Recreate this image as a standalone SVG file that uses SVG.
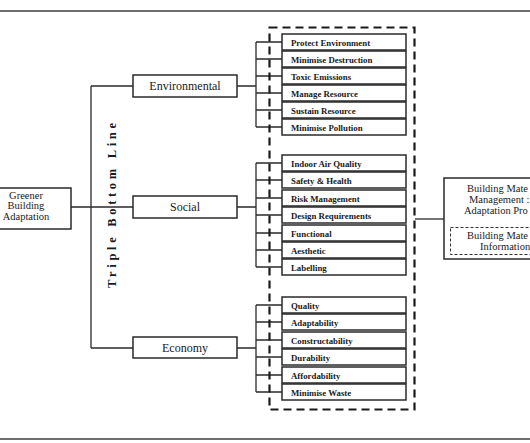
<svg xmlns="http://www.w3.org/2000/svg" width="530" height="443" viewBox="0 0 530 443">
<style>
.frame{stroke:#6e6e6e;stroke-width:2;fill:none}
.box{fill:#fff;stroke:#2a2a2a;stroke-width:1.5}
.ln{stroke:#2a2a2a;stroke-width:1.3;fill:none}
.dash{fill:none;stroke:#1a1a1a;stroke-width:2.2;stroke-dasharray:8 5}
.dash2{fill:none;stroke:#333;stroke-width:1;stroke-dasharray:3 2}
.item{font-family:"Liberation Serif","Times New Roman",serif;font-weight:bold;font-size:8.8px;fill:#1a1a1a}
.cat{font-family:"Liberation Serif","Times New Roman",serif;font-size:12px;fill:#1a1a1a;text-anchor:middle}
.gr{font-family:"Liberation Serif","Times New Roman",serif;font-size:10.5px;fill:#1a1a1a;text-anchor:middle}
.txt{font-family:"Liberation Serif","Times New Roman",serif;font-size:10.5px;fill:#1a1a1a}
</style>
<rect width="530" height="443" fill="#fff"/>
<line class="frame" x1="0" y1="11" x2="530" y2="11"/>
<line class="frame" x1="0" y1="439" x2="530" y2="439"/>

<g id="connectors">
  <path class="ln" d="M71 207H133 M91 86V348 M91 86H133 M91 348H133"/>
  <path class="ln" d="M237 86H256 M256 42V127 M256 42H282 M256 59H282 M256 76H282 M256 93H282 M256 110H282 M256 127H282"/>
  <path class="ln" d="M237 207H256 M256 163V267 M256 163H282 M256 180H282 M256 198H282 M256 215H282 M256 233H282 M256 250H282 M256 267H282"/>
  <path class="ln" d="M237 348H256 M256 305V392 M256 305H282 M256 322H282 M256 340H282 M256 357H282 M256 375H282 M256 392H282"/>
  <path class="ln" d="M415 219H444"/>
</g>

<g id="greener">
  <rect class="box" x="-5" y="188" width="76" height="41"/>
  <text class="gr" x="26" y="198.5">Greener</text>
  <text class="gr" x="26" y="209">Building</text>
  <text class="gr" x="26" y="219.5">Adaptation</text>
</g>

<g id="tbl-label">
  <text transform="translate(116,205.5) rotate(-90)" text-anchor="middle" font-family="'Liberation Serif','Times New Roman',serif" font-weight="bold" font-size="12.5px" fill="#1a1a1a" textLength="165" lengthAdjust="spacing">Triple Bottom Line</text>
</g>

<g id="environmental">
  <rect class="box" x="133" y="75" width="104" height="22"/>
  <text class="cat" x="185" y="90">Environmental</text>
</g>
<g id="social">
  <rect class="box" x="133" y="196" width="104" height="22"/>
  <text class="cat" x="185" y="211">Social</text>
</g>
<g id="economy">
  <rect class="box" x="133" y="337" width="104" height="21"/>
  <text class="cat" x="185" y="352">Economy</text>
</g>

<g id="group-box">
  <rect class="dash" x="269.5" y="27.5" width="145" height="382"/>
</g>

<g id="env-items">
  <g id="protect-environment"><rect class="box" x="282" y="34" width="124" height="16"/><text class="item" x="291" y="45.5">Protect Environment</text></g>
  <g id="minimise-destruction"><rect class="box" x="282" y="51" width="124" height="16"/><text class="item" x="291" y="62.5">Minimise Destruction</text></g>
  <g id="toxic-emissions"><rect class="box" x="282" y="68" width="124" height="16"/><text class="item" x="291" y="79.5">Toxic Emissions</text></g>
  <g id="manage-resource"><rect class="box" x="282" y="85" width="124" height="16"/><text class="item" x="291" y="96.5">Manage Resource</text></g>
  <g id="sustain-resource"><rect class="box" x="282" y="102" width="124" height="16"/><text class="item" x="291" y="113.5">Sustain Resource</text></g>
  <g id="minimise-pollution"><rect class="box" x="282" y="119" width="124" height="16"/><text class="item" x="291" y="130.5">Minimise Pollution</text></g>
</g>

<g id="social-items">
  <g id="indoor-air-quality"><rect class="box" x="282" y="155" width="124" height="16"/><text class="item" x="291" y="166.5">Indoor Air Quality</text></g>
  <g id="safety-health"><rect class="box" x="282" y="172" width="124" height="16"/><text class="item" x="291" y="183.5">Safety &amp; Health</text></g>
  <g id="risk-management"><rect class="box" x="282" y="190" width="124" height="16"/><text class="item" x="291" y="201.5">Risk Management</text></g>
  <g id="design-requirements"><rect class="box" x="282" y="207" width="124" height="16"/><text class="item" x="291" y="218.5">Design Requirements</text></g>
  <g id="functional"><rect class="box" x="282" y="225" width="124" height="16"/><text class="item" x="291" y="236.5">Functional</text></g>
  <g id="aesthetic"><rect class="box" x="282" y="242" width="124" height="16"/><text class="item" x="291" y="253.5">Aesthetic</text></g>
  <g id="labelling"><rect class="box" x="282" y="259" width="124" height="16"/><text class="item" x="291" y="270.5">Labelling</text></g>
</g>

<g id="economy-items">
  <g id="quality"><rect class="box" x="282" y="297" width="124" height="16"/><text class="item" x="291" y="308.5">Quality</text></g>
  <g id="adaptability"><rect class="box" x="282" y="314" width="124" height="16"/><text class="item" x="291" y="325.5">Adaptability</text></g>
  <g id="constructability"><rect class="box" x="282" y="332" width="124" height="16"/><text class="item" x="291" y="343.5">Constructability</text></g>
  <g id="durability"><rect class="box" x="282" y="349" width="124" height="16"/><text class="item" x="291" y="360.5">Durability</text></g>
  <g id="affordability"><rect class="box" x="282" y="367" width="124" height="16"/><text class="item" x="291" y="378.5">Affordability</text></g>
  <g id="minimise-waste"><rect class="box" x="282" y="384" width="124" height="16"/><text class="item" x="291" y="395.5">Minimise Waste</text></g>
</g>

<g id="bm-process">
  <rect class="box" x="444" y="178" width="100" height="81"/>
  <text class="txt" x="467" y="192">Building Mate</text>
  <text class="txt" x="469" y="203">Management :</text>
  <text class="txt" x="464" y="214">Adaptation Pro</text>
  <g id="bm-information">
    <rect class="dash2" x="450.5" y="227.5" width="90" height="27"/>
    <text class="txt" x="467" y="239">Building Mate</text>
    <text class="txt" x="480" y="250">Information</text>
  </g>
</g>
</svg>
